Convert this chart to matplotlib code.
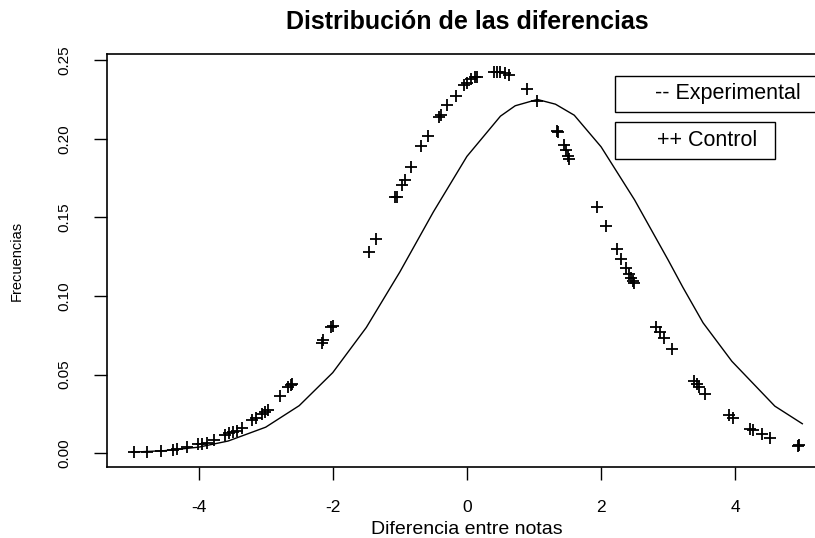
import matplotlib
matplotlib.use('Agg')
import matplotlib.pyplot as plt
from matplotlib.patches import Rectangle

plt.rcParams['font.family'] = ['Liberation Sans', 'DejaVu Sans']

# Experimental: smooth curve
exp_x = [-5.0, -4.5, -4.0, -3.56, -3.0, -2.5, -2.0, -1.5, -1.0, -0.5,
         0.0, 0.5, 0.72, 1.05, 1.32, 1.6, 2.0, 2.5, 3.0, 3.22, 3.52,
         3.95, 4.59, 5.0]
exp_y = [0.0007, 0.0017, 0.0039, 0.0078, 0.0166, 0.0303, 0.0513, 0.0800,
         0.1153, 0.1535, 0.1888, 0.2144, 0.2210, 0.2250, 0.2220, 0.2150,
         0.1949, 0.1611, 0.1229, 0.1055, 0.0830, 0.0585, 0.0300, 0.0188]

# Control: individual "+" points
ctl_x = [-4.97, -4.77, -4.56, -4.38, -4.32, -4.18, -4.01, -3.95, -3.87,
         -3.77, -3.60, -3.54, -3.48, -3.43, -3.35, -3.20, -3.14, -3.06,
         -3.01, -2.96, -2.78, -2.66, -2.62, -2.61, -2.16, -2.14, -2.02,
         -1.99, -1.46, -1.36, -1.07, -1.04, -0.97, -0.93, -0.83, -0.68,
         -0.58, -0.41, -0.39, -0.29, -0.17, -0.05, 0.0, 0.06, 0.12, 0.15,
         0.40, 0.45, 0.50, 0.57, 0.62, 0.89, 1.04, 1.34, 1.36, 1.45,
         1.47, 1.50, 1.52, 1.94, 2.08, 2.24, 2.30, 2.37, 2.42, 2.45,
         2.48, 2.49, 2.82, 2.88, 2.94, 3.06, 3.39, 3.43, 3.46, 3.55,
         3.90, 3.96, 4.22, 4.26, 4.40, 4.52, 4.94, 4.95]
ctl_y = [0.0006, 0.0006, 0.0017, 0.0021, 0.0025, 0.0038, 0.0057, 0.0059,
         0.0067, 0.0085, 0.0116, 0.0127, 0.0137, 0.0144, 0.0163, 0.0212,
         0.0222, 0.0250, 0.0264, 0.0275, 0.0364, 0.0420, 0.0434, 0.0440,
         0.0700, 0.0720, 0.0800, 0.0810, 0.1280, 0.1360, 0.1627, 0.1631,
         0.1706, 0.1737, 0.1822, 0.1954, 0.2017, 0.2140, 0.2150, 0.2214,
         0.2271, 0.2341, 0.2356, 0.2378, 0.2394, 0.2394, 0.2426, 0.2426,
         0.2422, 0.2416, 0.2405, 0.2316, 0.2240, 0.2050, 0.2040, 0.1960,
         0.1930, 0.1890, 0.1870, 0.1568, 0.1445, 0.1299, 0.1235, 0.1176,
         0.1140, 0.1112, 0.1097, 0.1081, 0.0801, 0.0773, 0.0735, 0.0663,
         0.0460, 0.0439, 0.0420, 0.0377, 0.0243, 0.0222, 0.0153, 0.0148,
         0.0121, 0.0095, 0.0048, 0.0050]

x_ticks = [-4, -2, 0, 2, 4]
y_ticks = [0.00, 0.05, 0.10, 0.15, 0.20, 0.25]

fig = plt.figure(figsize=(8.15, 5.38), dpi=100)
# axes run past the right edge, as in the cropped original
ax = fig.add_axes([0.1309, 0.132, 0.884, 0.767])

ax.plot(exp_x, exp_y, color='black', lw=1.0)
ax.plot(ctl_x, ctl_y, linestyle='none', marker='+', color='black',
        markersize=8, markeredgewidth=1.3)

ax.set_xlim(-5.37, 5.37)
ax.set_ylim(-0.0087, 0.2537)
ax.set_xticks(x_ticks)
ax.set_xticklabels([str(t) for t in x_ticks])
ax.set_yticks(y_ticks)
ax.set_yticklabels(['%.2f' % t for t in y_ticks], rotation=90, va='center')
ax.tick_params(direction='out', length=9.5, width=1)
ax.tick_params(axis='x', labelsize=12.5, pad=14.5)
ax.tick_params(axis='y', labelsize=11, pad=16)

for s in ax.spines.values():
    s.set_linewidth(1.2)

ax.set_title('Distribución de las diferencias', fontsize=18,
             fontweight='bold', pad=18, x=0.5)
ax.set_xlabel('Diferencia entre notas', fontsize=14, labelpad=4)
ax.set_ylabel('Frecuencias', fontsize=10.5, labelpad=24)

# two separate legend boxes
ax.add_patch(Rectangle((0.7057, 0.861), 0.35, 0.0864, transform=ax.transAxes,
                       facecolor='white', edgecolor='black', lw=1, zorder=5))
ax.text(0.761, 0.904, '-- Experimental', transform=ax.transAxes,
        fontsize=15.5, va='center', ha='left', zorder=6)
ax.add_patch(Rectangle((0.7057, 0.746), 0.2221, 0.090, transform=ax.transAxes,
                       facecolor='white', edgecolor='black', lw=1, zorder=5))
ax.text(0.764, 0.791, '++ Control', transform=ax.transAxes,
        fontsize=15.5, va='center', ha='left', zorder=6)

fig.savefig('out.png', dpi=100)
